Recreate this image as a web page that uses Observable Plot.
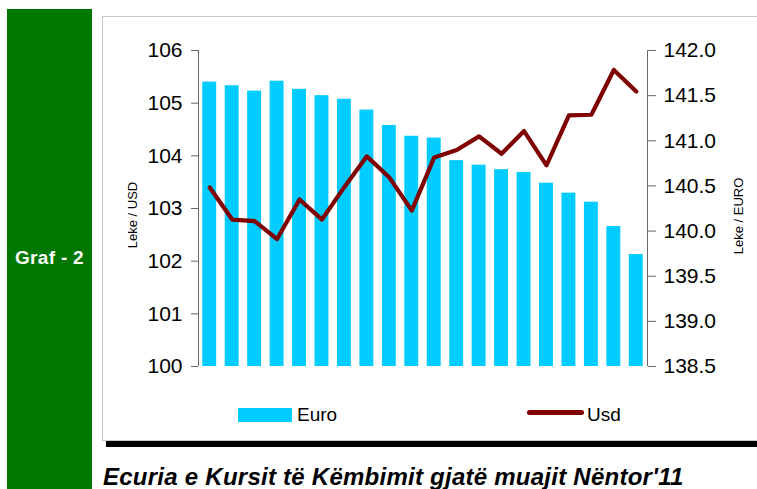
<!DOCTYPE html>
<html><head><meta charset="utf-8">
<script src="https://cdn.jsdelivr.net/npm/d3@7"></script>
<script src="https://cdn.jsdelivr.net/npm/@observablehq/plot@0.6"></script>
<style>
body{margin:0;width:757px;height:489px;position:relative;overflow:hidden;background:#fff;font-family:"Liberation Sans",Arial,sans-serif;}
#side{position:absolute;left:7px;top:9px;width:85px;height:480px;background:#007700;}
#side span{position:absolute;left:0;width:85px;top:239px;text-align:center;color:#fff;font-size:19px;line-height:19px;font-weight:bold;letter-spacing:0.3px;}
#box{position:absolute;left:102px;top:16px;width:670px;height:423px;border:1px solid #c8c8c8;background:#fff;}
#rule{position:absolute;left:106px;top:441px;width:651px;height:6px;background:#000;}
#chart{position:absolute;left:0;top:0;}
.ytitle{position:absolute;width:0;height:0;}
.ytitle span{position:absolute;left:0;top:0;transform:translate(-50%,-50%) rotate(-90deg);white-space:nowrap;font-size:13px;color:#000;}
.sw{position:absolute;}
.lt{position:absolute;font-family:"Liberation Sans",Arial,sans-serif;font-size:19px;line-height:19px;color:#000;}
#cap{position:absolute;left:103px;top:465px;font-family:"Liberation Sans",Arial,sans-serif;font-style:italic;font-weight:bold;font-size:24px;line-height:24px;letter-spacing:0.25px;color:#000;white-space:nowrap;}
</style></head>
<body>
<div id="side"><span>Graf - 2</span></div>
<div id="box"></div>
<div id="rule"></div>
<div class="ytitle" style="left:132px;top:215px"><span>Leke / USD</span></div>
<div class="ytitle" style="left:738px;top:216px"><span>Leke / EURO</span></div>
<div class="sw" style="left:238px;top:408px;width:54px;height:14px;background:#00CCFF"></div>
<div class="lt" style="left:297px;top:405px">Euro</div>
<div class="sw" style="left:527px;top:410px;width:57px;height:5px;background:#800000;border-radius:2.5px"></div>
<div class="lt" style="left:587px;top:405px">Usd</div>
<div id="cap">Ecuria e Kursit të Këmbimit gjatë muajit Nëntor'11</div>
<div id="chart"></div>
<script>
const days = [1,2,3,4,5,6,7,8,9,10,11,12,13,14,15,16,17,18,19,20];
const euro = [141.65,141.61,141.55,141.66,141.57,141.50,141.46,141.34,141.17,141.05,141.03,140.78,140.73,140.68,140.65,140.53,140.42,140.32,140.05,139.74];
const usd = [103.40,102.79,102.76,102.42,103.17,102.79,103.41,103.99,103.59,102.96,103.97,104.11,104.37,104.04,104.47,103.82,104.77,104.78,105.63,105.22];
const usdTicks = [100,101,102,103,104,105,106];
const euroTicks = [138.5,139.0,139.5,140.0,140.5,141.0,141.5,142.0];

const toLeft = e => 100 + (e - 138.5) * 6 / 3.5;
const toEuro = v => 138.5 + (v - 100) * 3.5 / 6;
const data = days.map((d, i) => ({day: d, euro: euro[i], usd: usd[i]}));

const chart = Plot.plot({
  width: 757, height: 489,
  marginLeft: 198, marginRight: 110, marginTop: 50, marginBottom: 123,
  style: {background: "transparent", fontFamily: "Liberation Sans, Arial, sans-serif", color: "#000"},
  x: {type: "linear", domain: [0.5, 20.5], axis: null},
  y: {domain: [100, 106], axis: null},
  marks: [
    Plot.rect(data, {x1: d => d.day - 0.31, x2: d => d.day + 0.31, y1: 100, y2: d => toLeft(d.euro), fill: "#00CCFF"}),
    Plot.line(data, {x: "day", y: "usd", stroke: "#800000", strokeWidth: 4.2}),
    Plot.ruleX([0.5], {y1: 100, y2: 106, stroke: "#666"}),
    Plot.ruleX([20.5], {y1: 100, y2: 106, stroke: "#666"}),
    Plot.axisY({anchor: "left", ticks: usdTicks, tickFormat: d3.format("d"), tickSize: 7, tickPadding: 9, fontSize: 21, label: null, stroke: "#666", fill: "#000"}),
    Plot.axisY({anchor: "right", ticks: euroTicks.map(toLeft), tickFormat: v => toEuro(v).toFixed(1), tickSize: 8, tickPadding: 8, fontSize: 21, label: null, stroke: "#666", fill: "#000"})
  ]
});
document.getElementById("chart").appendChild(chart);
</script>
</body></html>
